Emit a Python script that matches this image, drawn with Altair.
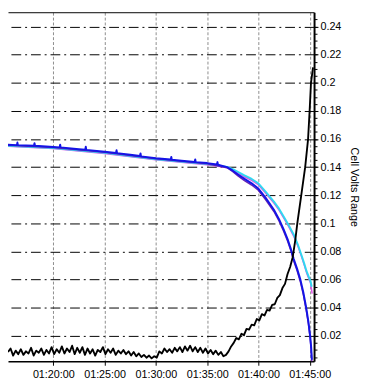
import altair as alt
import pandas as pd

FONT = "Liberation Sans"

# time in seconds after 01:00:00
x_domain = [935, 2725]
y_domain = [0.0019, 0.2502]
x_ticks = [900, 1200, 1500, 1800, 2100, 2400, 2700]
y_ticks = [0.02, 0.04, 0.06, 0.08, 0.10, 0.12, 0.14, 0.16, 0.18, 0.20, 0.22, 0.24]
y_minor = [round(0.005 * k, 3) for k in range(1, 50)]

# Cell volts range (black)
range_t = list(range(935, 2601, 15)) + [2615, 2627, 2650, 2673, 2690, 2699, 2707, 2719]
range_v = [
    0.0085, 0.0110, 0.0060, 0.0095, 0.0070, 0.0105, 0.0065, 0.0090, 0.0075, 0.0115,
    0.0060, 0.0095, 0.0080, 0.0110, 0.0065, 0.0100, 0.0075, 0.0120, 0.0070, 0.0105,
    0.0080, 0.0125, 0.0075, 0.0110, 0.0085, 0.0130, 0.0070, 0.0115, 0.0080, 0.0120,
    0.0065, 0.0110, 0.0075, 0.0105, 0.0060, 0.0100, 0.0085, 0.0120, 0.0070, 0.0105,
    0.0080, 0.0110, 0.0065, 0.0095, 0.0075, 0.0100, 0.0070, 0.0090, 0.0060, 0.0085,
    0.0055, 0.0075, 0.0050, 0.0065, 0.0045, 0.0060, 0.0040, 0.0055, 0.0045, 0.0090,
    0.0075, 0.0110, 0.0085, 0.0105, 0.0080, 0.0115, 0.0090, 0.0120, 0.0085, 0.0125,
    0.0095, 0.0130, 0.0090, 0.0120, 0.0085, 0.0115, 0.0080, 0.0110, 0.0075, 0.0100,
    0.0070, 0.0095, 0.0065, 0.0085, 0.0055, 0.0065, 0.0090, 0.0125, 0.0150, 0.0185,
    0.0175, 0.0215, 0.0205, 0.0250, 0.0245, 0.0280, 0.0275, 0.0320, 0.0310, 0.0355,
    0.0345, 0.0385, 0.0380, 0.0420, 0.0425, 0.0470, 0.0490, 0.0540, 0.0570, 0.0640,
    0.0690, 0.0760,
    0.0880, 0.1000, 0.1200, 0.1400, 0.1600, 0.1800, 0.2000, 0.2110,
]

# Cell voltage traces (plotted against the same scale)
blue_t = [935, 987, 990, 993, 1087, 1090, 1093, 1200, 1237, 1240, 1243, 1350, 1387, 1390,
          1393, 1500, 1567, 1570, 1573, 1650, 1707, 1710, 1713, 1800, 1887, 1890, 1893, 1950,
          2027, 2030, 2033, 2100, 2157, 2160, 2163, 2216, 2250, 2280, 2318, 2360, 2399, 2440,
          2490, 2520, 2547, 2570, 2590, 2605, 2625, 2645, 2662, 2679, 2692, 2702, 2708, 2712]
blue_v = [0.1560, 0.1557, 0.1575, 0.1557, 0.1552, 0.1570, 0.1552, 0.1544, 0.1541, 0.1560,
          0.1541, 0.1528, 0.1524, 0.1545, 0.1523, 0.1510, 0.1501, 0.1520, 0.1500, 0.1488,
          0.1479, 0.1498, 0.1477, 0.1464, 0.1454, 0.1472, 0.1453, 0.1446, 0.1437, 0.1455,
          0.1436, 0.1429, 0.1419, 0.1436, 0.1417, 0.1400, 0.1375, 0.1348, 0.1317, 0.1285,
          0.1248, 0.1185, 0.1097, 0.1030, 0.0958, 0.0888, 0.0815, 0.0750, 0.0680, 0.0600,
          0.0510, 0.0400, 0.0300, 0.0200, 0.0120, 0.0030]

purple_t = [935, 1200, 1500, 1800, 2100, 2216, 2250, 2280, 2318, 2360, 2399, 2440, 2490,
            2520, 2547, 2570, 2590, 2605, 2625, 2645, 2662, 2679, 2692, 2702, 2708, 2712]
purple_v = [0.1556, 0.1540, 0.1506, 0.1460, 0.1425, 0.1396, 0.1368, 0.1338, 0.1305, 0.1273,
            0.1236, 0.1172, 0.1085, 0.1018, 0.0945, 0.0875, 0.0803, 0.0737, 0.0667, 0.0585,
            0.0495, 0.0385, 0.0285, 0.0185, 0.0105, 0.0020]

cyan_t = [935, 1200, 1500, 1800, 2100, 2216, 2260, 2318, 2360, 2399, 2440, 2490, 2520,
          2547, 2575, 2605, 2630, 2652, 2668, 2681, 2694, 2704, 2711]
cyan_v = [0.1553, 0.1537, 0.1503, 0.1457, 0.1422, 0.1402, 0.1380, 0.1342, 0.1316, 0.1285,
          0.1228, 0.1155, 0.1105, 0.1050, 0.0990, 0.0923, 0.0850, 0.0772, 0.0712, 0.0660,
          0.0620, 0.0590, 0.0550]

magenta_t = [935, 1200, 1500, 1800, 2100, 2216, 2260, 2318, 2360, 2399, 2440, 2490, 2520,
             2547, 2575, 2605, 2630, 2652, 2668, 2681, 2694, 2704, 2714]
magenta_v = [0.1548, 0.1532, 0.1497, 0.1452, 0.1417, 0.1398, 0.1372, 0.1332, 0.1306, 0.1275,
             0.1218, 0.1145, 0.1095, 0.1040, 0.0980, 0.0912, 0.0840, 0.0762, 0.0702, 0.0650,
             0.0608, 0.0578, 0.0500]

series_colors = {"magenta": "#E050E8", "cyan": "#30D8F0", "purple": "#6A22B0", "blue": "#1414E6"}

xs = alt.Scale(domain=x_domain, nice=False, zero=False)
ys = alt.Scale(domain=y_domain, nice=False, zero=False)

main_x_axis = alt.Axis(
    values=x_ticks,
    labelExpr="'01:' + (datum.value/60 < 10 ? '0' : '') + datum.value/60 + ':00'",
    grid=True, gridColor="#8c8c8c", gridDash=[3, 2], gridWidth=1,
    domainColor="black", domainWidth=1.5, tickColor="black", tickSize=4,
    labelFont=FONT, labelFontSize=11, labelColor="black", labelPadding=4,
    labelFlush=False, labelOverlap=False, title=None,
)
main_y_axis = alt.Axis(
    orient="right", values=y_ticks,
    labelExpr="format(datum.value, '.2~f')",
    grid=True, gridColor="black", gridDash=[10, 4, 2, 4], gridWidth=1,
    domainColor="black", domainWidth=2, tickColor="black", tickSize=4,
    labelFont=FONT, labelFontSize=11, labelColor="black", labelPadding=2,
    labelFlush=False, labelOverlap=False,
    title="Cell Volts Range", titleFont=FONT, titleFontSize=11,
    titleFontWeight="normal", titleColor="black", titleAngle=90, titlePadding=8,
)
top_axis = alt.Axis(orient="top", domain=True, domainColor="black", domainWidth=1,
                    ticks=False, labels=False, grid=False, title=None)
minor_y_axis = alt.Axis(orient="right", values=y_minor, labels=False, ticks=True,
                        tickSize=3, tickColor="black", domain=False, grid=False, title=None)


def line_layer(t, v, color, width, xaxis=None, yaxis=None):
    df = pd.DataFrame({"t": t, "v": v})
    return alt.Chart(df).mark_line(color=color, strokeWidth=width, strokeJoin="round").encode(
        x=alt.X("t:Q", scale=xs, axis=xaxis),
        y=alt.Y("v:Q", scale=ys, axis=yaxis),
    )


layers = [
    line_layer(magenta_t, magenta_v, series_colors["magenta"], 1.5, top_axis, minor_y_axis),
    line_layer(cyan_t, cyan_v, series_colors["cyan"], 2),
    line_layer(purple_t, purple_v, series_colors["purple"], 1.5),
    line_layer(blue_t, blue_v, series_colors["blue"], 2),
    line_layer(range_t, range_v, "black", 1.9, main_x_axis, main_y_axis),
]

chart = alt.layer(*layers).resolve_axis(x="independent", y="independent").properties(
    width=313, height=357,
    autosize=alt.AutoSizeParams(type="none"),
    padding={"left": 0, "top": 0, "right": 48, "bottom": 26},
    background="white",
).configure_view(stroke=None)

chart.save("out.html", embed_options={"renderer": "svg", "actions": False})
